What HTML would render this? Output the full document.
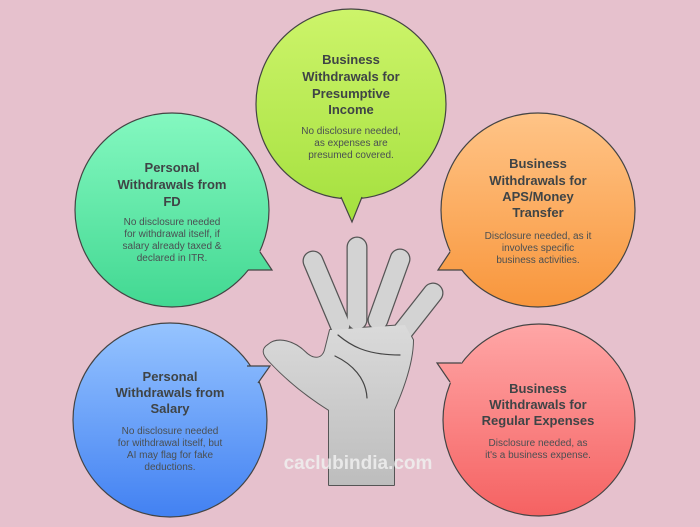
<!DOCTYPE html>
<html><head><meta charset="utf-8"><style>
html,body{margin:0;padding:0;background:#e6c1cd;}
svg{display:block;font-family:"Liberation Sans",sans-serif;}
.t{font-size:13px;font-weight:bold;fill:#3f4446;text-anchor:middle;}
.b{font-size:10px;fill:#4a4f52;text-anchor:middle;}
</style></head><body>
<svg width="700" height="527" viewBox="0 0 700 527">
<defs>
<linearGradient id="g1" gradientUnits="userSpaceOnUse" x1="0" y1="9" x2="0" y2="222"><stop offset="0" stop-color="#cdf46a"/><stop offset="1" stop-color="#a4e03e"/></linearGradient>
<linearGradient id="g2" gradientUnits="userSpaceOnUse" x1="0" y1="113" x2="0" y2="307"><stop offset="0" stop-color="#84f8c0"/><stop offset="1" stop-color="#42d892"/></linearGradient>
<linearGradient id="g3" gradientUnits="userSpaceOnUse" x1="0" y1="113" x2="0" y2="307"><stop offset="0" stop-color="#ffc487"/><stop offset="1" stop-color="#f8963c"/></linearGradient>
<linearGradient id="g4" gradientUnits="userSpaceOnUse" x1="0" y1="323" x2="0" y2="517"><stop offset="0" stop-color="#96c4ff"/><stop offset="1" stop-color="#4281f2"/></linearGradient>
<linearGradient id="g5" gradientUnits="userSpaceOnUse" x1="0" y1="324" x2="0" y2="516"><stop offset="0" stop-color="#ffa6a6"/><stop offset="1" stop-color="#f56262"/></linearGradient>
<linearGradient id="gh" x1="0" y1="0" x2="0" y2="1"><stop offset="0" stop-color="#dadada"/><stop offset="1" stop-color="#bdbdbd"/></linearGradient>
</defs>
<rect width="700" height="527" fill="#e6c1cd"/>

<!-- top -->
<circle cx="351" cy="104" r="95" fill="url(#g1)" stroke="#444" stroke-width="1.2"/>
<path d="M338,193 L341,197 L352,222 L362,197 L365,193 Z" fill="url(#g1)"/>
<path d="M341,197 L352,222 L362,197" fill="none" stroke="#444" stroke-width="1.2"/>
<text class="t" x="351" y="64">Business</text>
<text class="t" x="351" y="81">Withdrawals for</text>
<text class="t" x="351" y="98">Presumptive</text>
<text class="t" x="351" y="114">Income</text>
<text class="b" x="351" y="134">No disclosure needed,</text>
<text class="b" x="351" y="146">as expenses are</text>
<text class="b" x="351" y="158">presumed covered.</text>

<!-- left FD -->
<circle cx="172" cy="210" r="97" fill="url(#g2)" stroke="#444" stroke-width="1.2"/>
<path d="M254,240 L260,252 L272,270 L248,270 L243,262 Z" fill="url(#g2)"/>
<path d="M260,252 L272,270 L248,270" fill="none" stroke="#444" stroke-width="1.2"/>
<text class="t" x="172" y="172">Personal</text>
<text class="t" x="172" y="189">Withdrawals from</text>
<text class="t" x="172" y="206">FD</text>
<text class="b" x="172" y="225">No disclosure needed</text>
<text class="b" x="172" y="237">for withdrawal itself, if</text>
<text class="b" x="172" y="249">salary already taxed &amp;</text>
<text class="b" x="172" y="261">declared in ITR.</text>

<!-- right APS -->
<circle cx="538" cy="210" r="97" fill="url(#g3)" stroke="#444" stroke-width="1.2"/>
<path d="M456,240 L450,252 L438,270 L462,270 L467,262 Z" fill="url(#g3)"/>
<path d="M450,252 L438,270 L462,270" fill="none" stroke="#444" stroke-width="1.2"/>
<text class="t" x="538" y="168">Business</text>
<text class="t" x="538" y="185">Withdrawals for</text>
<text class="t" x="538" y="201">APS/Money</text>
<text class="t" x="538" y="217">Transfer</text>
<text class="b" x="538" y="239">Disclosure needed, as it</text>
<text class="b" x="538" y="251">involves specific</text>
<text class="b" x="538" y="263">business activities.</text>

<!-- bottom-left salary -->
<circle cx="170" cy="420" r="97" fill="url(#g4)" stroke="#444" stroke-width="1.2"/>
<path d="M243,371 L247,366 L270,366 L258,383 L252,392 Z" fill="url(#g4)"/>
<path d="M247,366 L270,366 L258,383" fill="none" stroke="#444" stroke-width="1.2"/>
<text class="t" x="170" y="381">Personal</text>
<text class="t" x="170" y="397">Withdrawals from</text>
<text class="t" x="170" y="413">Salary</text>
<text class="b" x="170" y="434">No disclosure needed</text>
<text class="b" x="170" y="446">for withdrawal itself, but</text>
<text class="b" x="170" y="458">AI may flag for fake</text>
<text class="b" x="170" y="470">deductions.</text>

<!-- bottom-right regular -->
<circle cx="539" cy="420" r="96" fill="url(#g5)" stroke="#444" stroke-width="1.2"/>
<path d="M466,370 L461,363 L437,363 L450,382 L456,391 Z" fill="url(#g5)"/>
<path d="M461,363 L437,363 L450,382" fill="none" stroke="#444" stroke-width="1.2"/>
<text class="t" x="538" y="393">Business</text>
<text class="t" x="538" y="409">Withdrawals for</text>
<text class="t" x="538" y="425">Regular Expenses</text>
<text class="b" x="538" y="446">Disclosure needed, as</text>
<text class="b" x="538" y="458">it's a business expense.</text>

<!-- hand -->
<g stroke-linecap="round" stroke-linejoin="round">
<g stroke="#555" stroke-width="21" fill="none">
<line x1="313" y1="261" x2="340" y2="325"/>
<line x1="357" y1="247" x2="357" y2="320"/>
<line x1="400" y1="259" x2="378" y2="320"/>
<line x1="433" y1="293" x2="400" y2="335"/>
</g>
<path d="M268,345 C278,336 295,342 305,352 C313,360 322,360 325,350 L330,330 L405,325 L413,340 C413,360 405,385 394,410 L394,485 L329,485 L329,410 C305,395 285,378 270,362 C262,354 262,349 268,345 Z" fill="#555" stroke="#555" stroke-width="2"/>
<g stroke="#d3d3d3" stroke-width="18.5" fill="none">
<line x1="313" y1="261" x2="340" y2="325"/>
<line x1="357" y1="247" x2="357" y2="320"/>
<line x1="400" y1="259" x2="378" y2="320"/>
<line x1="433" y1="293" x2="400" y2="335"/>
</g>
<path d="M268,345 C278,336 295,342 305,352 C313,360 322,360 325,350 L330,330 L405,325 L413,340 C413,360 405,385 394,410 L394,485 L329,485 L329,410 C305,395 285,378 270,362 C262,354 262,349 268,345 Z" fill="url(#gh)" stroke="none"/>
<path d="M338,335 C350,345 365,355 400,355" stroke="#444" stroke-width="1.2" fill="none"/>
<path d="M335,356 C352,364 366,378 367,398" stroke="#444" stroke-width="1.2" fill="none"/>
</g>
<text x="358" y="469" text-anchor="middle" style="font-size:19px;font-weight:bold;fill:#f0f0f0;opacity:0.85">caclubindia.com</text>
</svg>
</body></html>
